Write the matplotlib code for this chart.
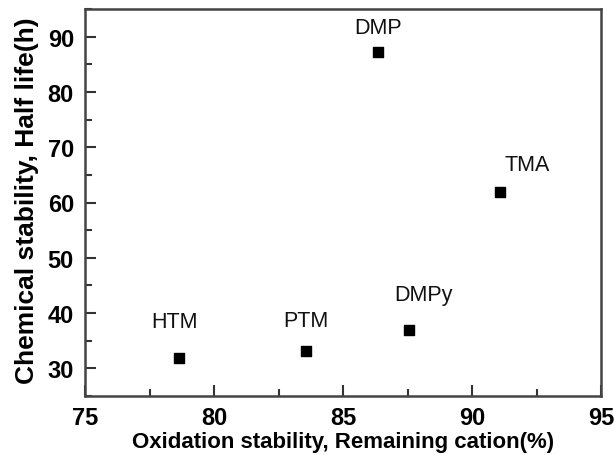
import numpy as np
import matplotlib
matplotlib.use('Agg')
import matplotlib.pyplot as plt
from matplotlib.ticker import MultipleLocator

# membrane cations: oxidation stability vs chemical stability
names = ['HTM', 'PTM', 'DMPy', 'TMA', 'DMP']
oxidation = [78.65, 83.55, 87.55, 91.1, 86.35]
half_life = [31.8, 33.1, 37.0, 61.9, 87.2]

plt.rcParams['font.family'] = ['Liberation Sans', 'DejaVu Sans']

fig = plt.figure(figsize=(6.15, 4.56), dpi=100)
ax = fig.add_axes([85 / 615, 1 - 397 / 456, 516 / 615, 387 / 456])

ax.scatter(oxidation, half_life, marker='s', s=55, c='black', zorder=3)

# label offsets in pixels (above each point)
offsets = [(-5, 37), (0, 31), (15, 35), (27, 27), (0, 25)]
for n, x, y, off in zip(names, oxidation, half_life, offsets):
    ax.annotate(n, (x, y), xytext=off, textcoords='offset pixels',
                ha='center', va='center', fontsize=15.5, color='#111111')

ax.set_xlim(75, 95)
ax.set_ylim(25, 95)
ax.xaxis.set_major_locator(MultipleLocator(5))
ax.xaxis.set_minor_locator(MultipleLocator(2.5))
ax.yaxis.set_major_locator(MultipleLocator(10))
ax.yaxis.set_minor_locator(MultipleLocator(5))
ax.set_yticks(np.arange(30, 91, 10))

ax.tick_params(which='both', direction='in', top=False, right=False, width=1.5, color='#333333')
ax.tick_params(which='major', length=8, labelsize=17)
ax.tick_params(axis='x', which='major', pad=7)
ax.tick_params(axis='y', which='major', pad=8)
ax.tick_params(which='minor', length=5)
for lab in ax.get_xticklabels() + ax.get_yticklabels():
    lab.set_fontweight('bold')

for s in ax.spines.values():
    s.set_linewidth(1.8)
    s.set_color('#444444')

ax.set_xlabel('Oxidation stability, Remaining cation(%)', fontsize=16, fontweight='bold', va='center')
ax.xaxis.set_label_coords((343 - 85) / 516, -(443 - 397) / 387)
ax.set_ylabel('Chemical stability, Half life(h)', fontsize=19, fontweight='bold', va='center')
ax.yaxis.set_label_coords(-(85 - 27) / 516, (397 - 201) / 387)

fig.savefig('out.png', dpi=100)
plt.close()
